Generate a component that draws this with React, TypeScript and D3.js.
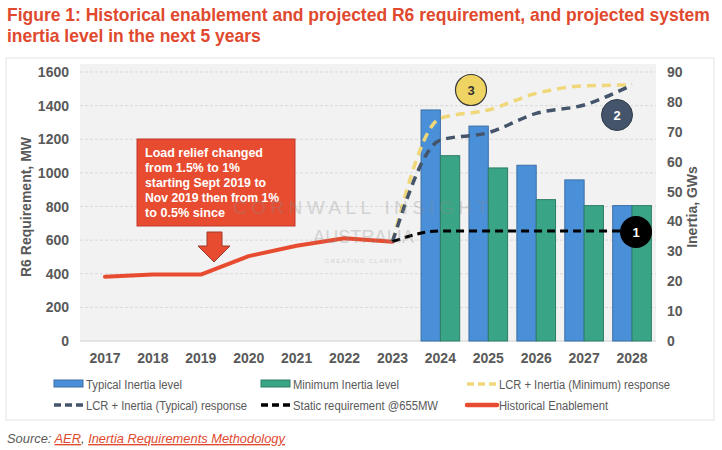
import React from "react";
import * as d3 from "d3";

const years = ["2017","2018","2019","2020","2021","2022","2023","2024","2025","2026","2027","2028"];
const typicalInertia = [null,null,null,null,null,null,null,77.3,71.9,58.8,53.9,45.3];
const minimumInertia = [null,null,null,null,null,null,null,62.0,57.9,47.3,45.3,45.3];
const historical = [382,395,395,505,567,611,591,null,null,null,null,null];
const staticReq = [null,null,null,null,null,null,591,655,655,655,655,655];
const lcrTypical = [null,null,null,null,null,null,591,1195,1239,1354,1404,1523];
const lcrMinimum = [null,null,null,null,null,null,591,1325,1374,1473,1517,1523];
const leftTicks = [0,200,400,600,800,1000,1200,1400,1600];
const rightTicks = [0,10,20,30,40,50,60,70,80,90];

const W = 722, H = 450;
const FONT = "'Liberation Sans', Arial, sans-serif";
const AX = "#595959";

export default function App() {
  const x = d3.scaleBand<string>().domain(years).range([81, 656]).padding(0);
  const bw = x.bandwidth();
  const sub = d3.scaleBand<string>().domain(["t","m"]).range([0, bw]).paddingInner(0).paddingOuter(0.24);
  const yL = d3.scaleLinear().domain([0,1600]).range([341,72]);
  const yR = d3.scaleLinear().domain([0,90]).range([341,72]);
  const cx = (i: number) => (x(years[i]) as number) + bw / 2;

  const mkLine = (arr: (number|null)[], curve: d3.CurveFactory) => d3.line<number|null>()
    .defined(d => d !== null)
    .x((_, i) => cx(i))
    .y(d => yL(d as number))
    .curve(curve)(arr) || "";

  const legendItems = [
    { label: "Typical Inertia level", x: 54, y: 384, w: 96, type: "bar", color: "#4a90d9", stroke: "#3a6ea5" },
    { label: "Minimum Inertia level", x: 261, y: 384, w: 106, type: "bar", color: "#3aa586", stroke: "#2e7d66" },
    { label: "LCR + Inertia (Minimum) response", x: 467, y: 384, w: 171, type: "dash", color: "#efd77a" },
    { label: "LCR + Inertia (Typical) response", x: 54, y: 405, w: 161, type: "dash", color: "#44546a" },
    { label: "Static requirement @655MW", x: 261, y: 405, w: 145, type: "dash", color: "#000000" },
    { label: "Historical Enablement", x: 467, y: 405, w: 109, type: "line", color: "#e84c30" },
  ];

  const noteLines = ["Load relief changed", "from 1.5%  to 1%", "starting Sept 2019 to", "Nov 2019 then from 1%", "to 0.5%  since"];
  const noteW = [118, 95, 121, 134, 80];

  return (
    <svg width={W} height={H} style={{ position: "absolute", left: 0, top: 0, background: "#fff" }} fontFamily={FONT}>
      <rect x={0} y={0} width={W} height={H} fill="#fff" />
      {/* Title */}
      <g transform="translate(7,21) scale(0.9,1)">
        <text x={0} y={0} fill="#e0492e" fontSize={18} fontWeight="bold" textLength={781} lengthAdjust="spacingAndGlyphs">
          Figure 1: Historical enablement and projected R6 requirement, and projected system
        </text>
        <text x={0} y={21} fill="#e0492e" fontSize={18} fontWeight="bold" textLength={282} lengthAdjust="spacingAndGlyphs">
          inertia level in the next 5 years
        </text>
      </g>
      {/* chart frame */}
      <rect x={6} y={58} width={708} height={362} fill="#fff" stroke="#e3e3e3" strokeWidth={1} />
      {/* plot bg */}
      <rect x={80} y={64} width={576} height={277} fill="#f2f2f2" />
      {/* gridlines */}
      {leftTicks.map(t => (
        <line key={t} x1={80} x2={656} y1={yL(t)} y2={yL(t)} stroke={t === 0 ? "#d0d0d0" : "#d9d9d9"} strokeDasharray={t === 0 ? undefined : "3,2"} strokeWidth={1} />
      ))}
      {/* bars */}
      {years.map((yr, i) => (
        <g key={yr}>
          {typicalInertia[i] !== null && (
            <rect x={(x(yr) as number) + (sub("t") as number)} y={yR(typicalInertia[i] as number)} width={sub.bandwidth()} height={341 - yR(typicalInertia[i] as number)} fill="#4a90d9" stroke="#3a6ea5" strokeWidth={1} />
          )}
          {minimumInertia[i] !== null && (
            <rect x={(x(yr) as number) + (sub("m") as number)} y={yR(minimumInertia[i] as number)} width={sub.bandwidth()} height={341 - yR(minimumInertia[i] as number)} fill="#3aa586" stroke="#2e7d66" strokeWidth={1} />
          )}
        </g>
      ))}
      {/* lines */}
      <path d={mkLine(historical, d3.curveLinear)} fill="none" stroke="#e84c30" strokeWidth={4} strokeLinecap="round" strokeLinejoin="round" />
      <path d={mkLine(lcrMinimum, d3.curveMonotoneX)} fill="none" stroke="#efd77a" strokeWidth={3.5} strokeDasharray="9,6" />
      <path d={mkLine(lcrTypical, d3.curveMonotoneX)} fill="none" stroke="#44546a" strokeWidth={3.5} strokeDasharray="9,6" />
      <path d={mkLine(staticReq, d3.curveMonotoneX)} fill="none" stroke="#000" strokeWidth={3} strokeDasharray="8,5" />
      {/* numbered circles */}
      <circle cx={471} cy={90} r={15.5} fill="#f0d463" stroke="#3a3a3a" strokeWidth={1.2} />
      <text x={471} y={95} textAnchor="middle" fontSize={13} fontWeight="bold" fill="#333">3</text>
      <circle cx={617} cy={115} r={15.5} fill="#44546a" stroke="#2f3b4a" strokeWidth={1} />
      <text x={617} y={120} textAnchor="middle" fontSize={13} fontWeight="bold" fill="#fff">2</text>
      <circle cx={636} cy={232} r={16} fill="#000" />
      <text x={636} y={237} textAnchor="middle" fontSize={13} fontWeight="bold" fill="#fff">1</text>
      {/* annotation box */}
      <rect x={137} y={139} width={158} height={87} fill="#e84c30" stroke="#c0392b" strokeWidth={1} />
      {noteLines.map((l, i) => (
        <text key={i} x={145} y={157 + i * 15} fill="#fff" fontSize={13.5} fontWeight="bold" textLength={noteW[i]} lengthAdjust="spacingAndGlyphs">{l}</text>
      ))}
      {/* down arrow */}
      <path d="M207,232 L222,232 L222,246 L230,246 L214,262 L198,246 L207,246 Z" fill="#e84c30" stroke="#9e3a2a" strokeWidth={1} />
      {/* watermark */}
      <g fill="#8a8a8a" opacity={0.3}>
        <text x={233} y={214} fontSize={19} letterSpacing={9} textLength={264} lengthAdjust="spacing">CORNWALL INSIGHT</text>
        <text x={313} y={243} fontSize={18} letterSpacing={6} textLength={107} lengthAdjust="spacing">AUSTRALIA</text>
        <text x={325} y={263} fontSize={6} letterSpacing={2} textLength={79} lengthAdjust="spacing">CREATING CLARITY</text>
      </g>
      {/* axes labels */}
      {leftTicks.map(t => (
        <text key={t} x={69} y={yL(t) + 5} textAnchor="end" fontSize={14} fontWeight="bold" fill={AX}>{t}</text>
      ))}
      {rightTicks.map(t => (
        <text key={t} x={667} y={yR(t) + 5} textAnchor="start" fontSize={14} fontWeight="bold" fill={AX}>{t}</text>
      ))}
      {years.map((yr, i) => (
        <text key={yr} x={cx(i)} y={363} textAnchor="middle" fontSize={14} fontWeight="bold" fill={AX}>{yr}</text>
      ))}
      <text transform="translate(31,207) rotate(-90)" textAnchor="middle" fontSize={14} fontWeight="bold" fill={AX}>R6 Requirement, MW</text>
      <text transform="translate(697,207) rotate(-90)" textAnchor="middle" fontSize={14} fontWeight="bold" fill={AX}>Inertia, GWs</text>
      {/* legend */}
      {legendItems.map((it, i) => (
        <g key={i}>
          {it.type === "bar" && <rect x={it.x} y={it.y - 4} width={29} height={7} fill={it.color} stroke={it.stroke} strokeWidth={1} />}
          {it.type === "dash" && <line x1={it.x} x2={it.x + 30} y1={it.y} y2={it.y} stroke={it.color} strokeWidth={3.5} strokeDasharray="7,4" />}
          {it.type === "line" && <line x1={it.x} x2={it.x + 30} y1={it.y} y2={it.y} stroke={it.color} strokeWidth={4.5} strokeLinecap="round" />}
          <text x={it.x + 32} y={it.y + 5} fontSize={12.5} fill={AX} textLength={it.w} lengthAdjust="spacingAndGlyphs">{it.label}</text>
        </g>
      ))}
      {/* source */}
      <text x={7} y={443} fontSize={13.5} fontStyle="italic" fill="#595959" textLength={278} lengthAdjust="spacingAndGlyphs">
        Source: <tspan fill="#e0492e" textDecoration="underline">AER</tspan>, <tspan fill="#e0492e" textDecoration="underline">Inertia Requirements Methodology</tspan>
      </text>
    </svg>
  );
}
